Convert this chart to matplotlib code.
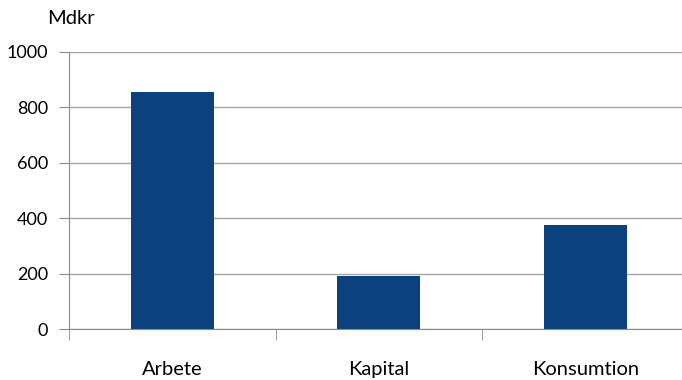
import numpy as np
import matplotlib
matplotlib.use("Agg")
from matplotlib import pyplot as plt

plt.rcParams['font.family'] = ['Lato', 'DejaVu Sans']

categories = ['Arbete', 'Kapital', 'Konsumtion']
values = [855, 191, 375]
yticks = [0, 200, 400, 600, 800, 1000]

fig = plt.figure(figsize=(6.82, 3.80), dpi=100)
ax = fig.add_axes([69/682, 51/380, 619.5/682, 277/380])

x = np.arange(len(categories))
ax.bar(x, values, width=0.4, color='#0b427d', zorder=3)

ax.set_xlim(-0.5, 2.5)
ax.set_ylim(0, 1000)
ax.set_yticks(yticks)
ax.set_yticklabels([str(v) for v in yticks], fontsize=13)
ax.set_xticks(x)
ax.set_xticklabels(categories, fontsize=14.5)
ax.tick_params(axis='x', length=0, pad=23)
ax.tick_params(axis='y', length=7, color='#8c8c8c', pad=8)

# minor ticks mark category boundaries
ax.set_xticks([-0.5, 0.5, 1.5], minor=True)
ax.tick_params(axis='x', which='minor', length=8, color='#8c8c8c')

ax.grid(axis='y', color='#a6a6a6', linewidth=1, zorder=0)
for side in ['top', 'right']:
    ax.spines[side].set_visible(False)
ax.spines['left'].set_color('#8c8c8c')
ax.spines['bottom'].set_color('#8c8c8c')

fig.text(47/682, 1 - 18/380, 'Mdkr', fontsize=14.5, va='center', ha='left')

fig.savefig('out.png', dpi=100)
